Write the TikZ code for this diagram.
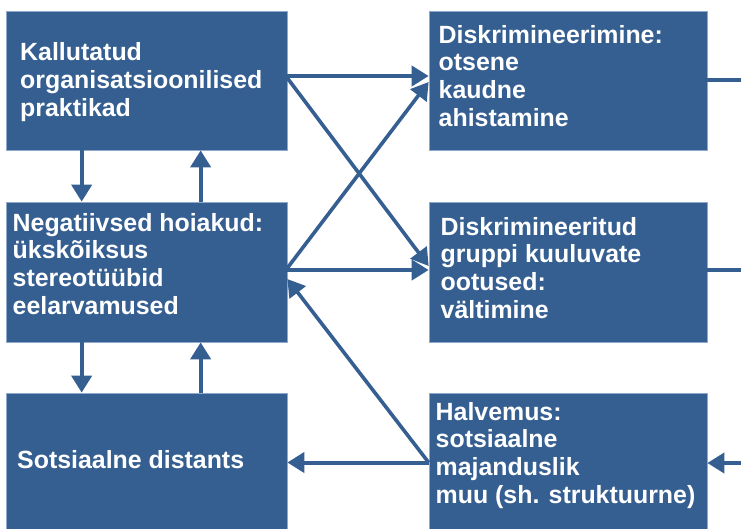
\documentclass[tikz,border=0pt]{standalone}
\usepackage{fontspec}
\setmainfont{Liberation Sans}
\usetikzlibrary{arrows.meta}
\definecolor{boxblue}{HTML}{365F91}
\definecolor{boxedge}{HTML}{8EA9CC}
\tikzset{
  box/.style={rectangle, fill=boxblue, draw=boxedge, line width=0.7pt, inner sep=0pt},
  label/.style={text=white, align=left, inner sep=0pt, anchor=base west,
    font=\fontsize{24.9}{27.6}\selectfont\bfseries},
  arr/.style={draw=boxblue, line width=4pt, -{Triangle[length=17pt,width=20pt]}},
  darr/.style={draw=boxblue, line width=3.6pt, -{Triangle[length=17pt,width=20pt]}},
  plain/.style={draw=boxblue, line width=4pt}
}
\begin{document}
\begin{tikzpicture}[x=1pt,y=-1pt]
\clip (0,0) rectangle (741,528);
\fill[white] (0,0) rectangle (741,528);
% boxes
\node[box, minimum width=281pt, minimum height=139pt] (A) at (146.5,80.5) {};
\node[box, minimum width=281pt, minimum height=140pt] (B) at (146.5,272) {};
\node[box, minimum width=281pt, minimum height=139pt] (C) at (146.5,462.5) {};
\node[box, minimum width=278pt, minimum height=139pt] (D) at (568,80.5) {};
\node[box, minimum width=278pt, minimum height=140pt] (E) at (568,272) {};
\node[box, minimum width=278pt, minimum height=139pt] (F) at (568,462.5) {};
% texts
\node[label] (tA) at (20,116) {Kallutatud\\organisatsioonilised\\praktikad};
\node[label] (tB) at (12.5,314) {Negatiivsed hoiakud:\\ükskõiksus\\stereotüübid\\eelarvamused};
\node[label] (tC) at (17,468) {Sotsiaalne distants};
\node[label] (tD) at (438.5,126) {Diskrimineerimine:\\otsene\\kaudne\\ahistamine};
\node[label] (tE) at (440.5,318) {Diskrimineeritud\\gruppi kuuluvate\\ootused:\\vältimine};
\node[label] (tF) at (435.5,503) {Halvemus:\\sotsiaalne\\majanduslik\\muu (sh. struktuurne)};
% outside coordinates
\coordinate (dout) at (745,80);
\coordinate (eout) at (745,270);
\coordinate (fin) at (745,463);
% vertical arrows
\draw[arr] ([xshift=76pt]A.south west) -- ([xshift=76pt]B.north west);
\draw[arr] ([xshift=195pt]B.north west) -- ([xshift=195pt]A.south west);
\draw[arr] ([xshift=76pt]B.south west) -- ([xshift=76pt]C.north west);
\draw[arr] ([xshift=195pt]C.north west) -- ([xshift=195pt]B.south west);
% horizontal arrows
\draw[arr] ([yshift=4.5pt]A.east) -- ([yshift=4.5pt]D.west);
\draw[arr] ([yshift=2pt]B.east) -- ([yshift=2pt]E.west);
\draw[arr] (F.west) -- (C.east);
% diagonal arrows
\draw[darr] ([yshift=2.5pt]A.east) -- ([yshift=6pt]E.west);
\draw[darr] ([yshift=4pt]B.east) -- ([yshift=-1.5pt]D.west);
\draw[darr] (F.west) -- ([yshift=-7pt]B.east);
% right edge connectors
\draw[plain] ([yshift=0.5pt]D.east) -- (dout);
\draw[plain] ([yshift=2pt]E.east) -- (eout);
\draw[arr] (fin) -- ([yshift=-0.5pt]F.east);
\end{tikzpicture}
\end{document}
